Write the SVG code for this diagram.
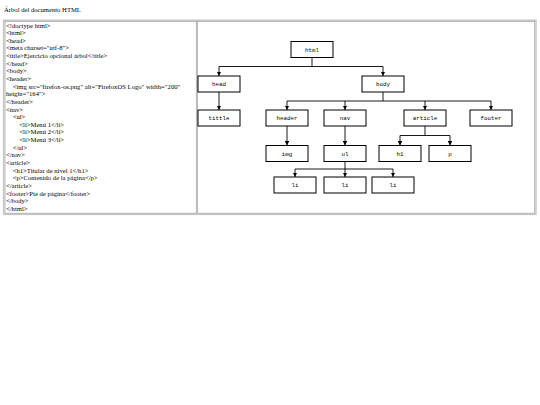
<svg xmlns="http://www.w3.org/2000/svg" width="540" height="405" viewBox="0 0 540 405">
<style>
.t{font-family:"Liberation Serif","Times New Roman",serif;font-size:6.65px;fill:#000}
.n rect{fill:#fff;stroke:#000;stroke-width:1}
.n text{font-family:"Liberation Mono","Courier New",monospace;font-size:5.8px;text-anchor:middle;fill:#000}
.c path{fill:none;stroke:#000;stroke-width:0.9}
.a{marker-end:url(#arr)}
</style>
<defs>
<marker id="arr" viewBox="0 0 10 10" refX="10" refY="5" markerWidth="4.5" markerHeight="4.5" markerUnits="userSpaceOnUse" orient="auto">
<path d="M0,0 L10,5 L0,10 z" fill="#000"/>
</marker>
</defs>
<rect width="540" height="405" fill="#fff"/>
<text class="t" x="4" y="12.3">Árbol del documento HTML</text>
<g id="table">
<rect x="3.6" y="20.2" width="532.4" height="194.2" fill="none" stroke="#c4c4c4" stroke-width="1.4"/>
<rect x="5" y="21.6" width="191.3" height="191.6" fill="none" stroke="#9a9a9a" stroke-width="0.7"/>
<rect x="197.3" y="21.6" width="337.4" height="191.6" fill="none" stroke="#9a9a9a" stroke-width="0.7"/>
</g>
<g id="code" class="t">
<text x="6" y="27.5">&lt;!doctype html&gt;</text>
<text x="6" y="35.14">&lt;html&gt;</text>
<text x="6" y="42.78">&lt;head&gt;</text>
<text x="6" y="50.42">&lt;meta charset="utf-8"&gt;</text>
<text x="6" y="58.06">&lt;title&gt;Ejercicio opcional árbol&lt;/title&gt;</text>
<text x="6" y="65.7">&lt;/head&gt;</text>
<text x="6" y="73.34">&lt;body&gt;</text>
<text x="6" y="80.98">&lt;header&gt;</text>
<text x="12.7" y="88.62">&lt;img src="firefox-os.png" alt="FirefoxOS Logo" width="200"</text>
<text x="6" y="96.26">height="164"&gt;</text>
<text x="6" y="103.9">&lt;/header&gt;</text>
<text x="6" y="111.54">&lt;nav&gt;</text>
<text x="12.7" y="119.18">&lt;ul&gt;</text>
<text x="19.3" y="126.82">&lt;li&gt;Menú 1&lt;/li&gt;</text>
<text x="19.3" y="134.46">&lt;li&gt;Menú 2&lt;/li&gt;</text>
<text x="19.3" y="142.1">&lt;li&gt;Menú 3&lt;/li&gt;</text>
<text x="12.7" y="149.74">&lt;/ul&gt;</text>
<text x="6" y="157.38">&lt;/nav&gt;</text>
<text x="6" y="165.02">&lt;article&gt;</text>
<text x="12.7" y="172.66">&lt;h1&gt;Titular de nivel 1&lt;/h1&gt;</text>
<text x="12.7" y="180.3">&lt;p&gt;Contenido de la página&lt;/p&gt;</text>
<text x="6" y="187.94">&lt;/article&gt;</text>
<text x="6" y="195.58">&lt;footer&gt;Pie de página&lt;/footer&gt;</text>
<text x="6" y="203.22">&lt;/body&gt;</text>
<text x="6" y="210.86">&lt;/html&gt;</text>
</g>
<g id="connectors" class="c">
<path d="M312,57.5 V66.5 M219,66.5 H383"/>
<path class="a" d="M219,66.5 V76"/>
<path class="a" d="M383,66.5 V76"/>
<path class="a" d="M219,92 V110"/>
<path d="M383,92 V101 M287,101 H491"/>
<path class="a" d="M287,101 V110"/>
<path class="a" d="M345,101 V110"/>
<path class="a" d="M425,101 V110"/>
<path class="a" d="M491,101 V110"/>
<path class="a" d="M287,126 V145.5"/>
<path class="a" d="M345,126 V145.5"/>
<path d="M425,126 V135.5 M400,135.5 H450"/>
<path class="a" d="M400,135.5 V145.5"/>
<path class="a" d="M450,135.5 V145.5"/>
<path d="M345,161.5 V169 M295,169 H393"/>
<path class="a" d="M295,169 V177"/>
<path class="a" d="M345,169 V177"/>
<path class="a" d="M393,169 V177"/>
</g>
<g id="html" class="n"><rect x="291" y="41.5" width="42" height="16"/><text x="312" y="51.5">html</text></g>
<g id="head" class="n"><rect x="198" y="76" width="42" height="16"/><text x="219" y="86">head</text></g>
<g id="body" class="n"><rect x="362" y="76" width="42" height="16"/><text x="383" y="86">body</text></g>
<g id="tittle" class="n"><rect x="198" y="110" width="42" height="16"/><text x="219" y="120">tittle</text></g>
<g id="header" class="n"><rect x="266" y="110" width="42" height="16"/><text x="287" y="120">header</text></g>
<g id="nav" class="n"><rect x="324" y="110" width="42" height="16"/><text x="345" y="120">nav</text></g>
<g id="article" class="n"><rect x="404" y="110" width="42" height="16"/><text x="425" y="120">article</text></g>
<g id="footer" class="n"><rect x="470" y="110" width="42" height="16"/><text x="491" y="120">footer</text></g>
<g id="img" class="n"><rect x="266" y="145.5" width="42" height="16"/><text x="287" y="155.5">img</text></g>
<g id="ul" class="n"><rect x="324" y="145.5" width="42" height="16"/><text x="345" y="155.5">ul</text></g>
<g id="h1" class="n"><rect x="379" y="145.5" width="42" height="16"/><text x="400" y="155.5">h1</text></g>
<g id="p" class="n"><rect x="429" y="145.5" width="42" height="16"/><text x="450" y="155.5">p</text></g>
<g id="li1" class="n"><rect x="274" y="177" width="42" height="16"/><text x="295" y="187">li</text></g>
<g id="li2" class="n"><rect x="324" y="177" width="42" height="16"/><text x="345" y="187">li</text></g>
<g id="li3" class="n"><rect x="372" y="177" width="42" height="16"/><text x="393" y="187">li</text></g>
</svg>
